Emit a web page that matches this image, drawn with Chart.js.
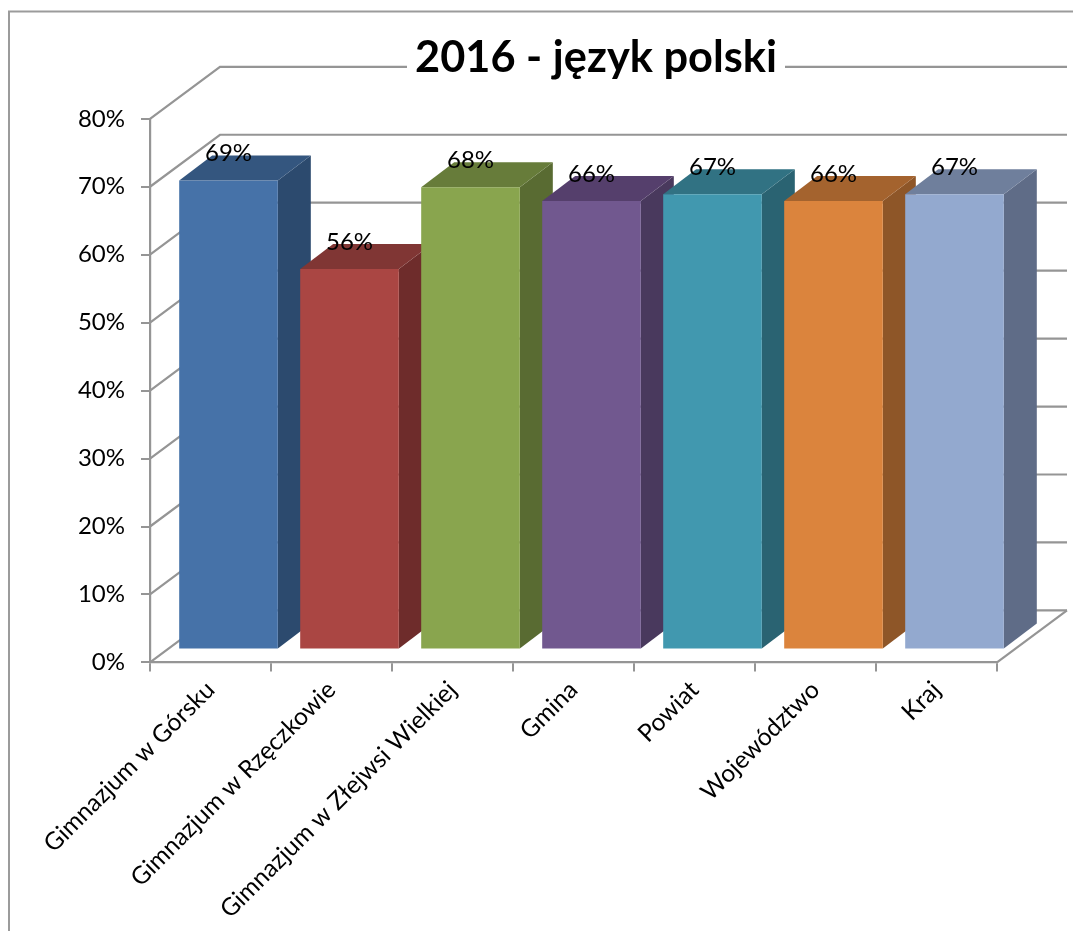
<!DOCTYPE html>
<html><head><meta charset="utf-8">
<style>html,body{margin:0;padding:0;background:#fff}#wrap{width:1073px;height:931px;position:relative}</style>
<script src="https://cdn.jsdelivr.net/npm/chart.js@4"></script>
</head><body><div id="wrap"><canvas id="c" width="1073" height="931"></canvas></div>
<script>
const titleText = '2016 - język polski';
const categories = ['Gimnazjum w Górsku','Gimnazjum w Rzęczkowie','Gimnazjum w Złejwsi Wielkiej','Gmina','Powiat','Województwo','Kraj'];
const values = [69,56,68,66,67,66,67];
const yTicks = [0,10,20,30,40,50,60,70,80];
const frontColors = ['#4672A8','#AA4643','#89A54E','#71588F','#4198AF','#DB843D','#93A9CF'];
const sideColors  = ['#2C4A6E','#6E2C2B','#596B32','#49395D','#2A6372','#8E5628','#5F6C87'];
const topColors   = ['#34567F','#803634','#677C3A','#553F6C','#317283','#A4632E','#6F7F9C'];

const GRID = '#959595', FONT = 'Lato, Carlito, Calibri, sans-serif';
const WALL_DX = 70, WALL_DY = -52;      // depth of the plot box
const BAR_DX = 18, BAR_DY = -13;        // where bars stand inside the box
const BAR_DEPTH_X = 33, BAR_DEPTH_Y = -25;

const box3d = {
  id: 'box3d',
  afterLayout(chart) {
    // the title sits right of centre in the original
    const t = chart.titleBlock;
    t.left = 415; t.right = 777;
  },
  beforeDraw(chart) {
    const {ctx, scales:{x,y}} = chart;
    ctx.save();
    // outer frame
    ctx.strokeStyle = '#9b9b9b'; ctx.lineWidth = 2;
    ctx.beginPath(); ctx.moveTo(9, 931); ctx.lineTo(9, 11.5); ctx.lineTo(1073, 11.5); ctx.stroke();
    // walls and floor
    ctx.strokeStyle = GRID; ctx.lineWidth = 2.2;
    yTicks.forEach(v => {
      const p = y.getPixelForValue(v);
      ctx.beginPath();
      ctx.moveTo(x.left, p);
      ctx.lineTo(x.left + WALL_DX, p + WALL_DY);
      ctx.lineTo(x.right + WALL_DX, p + WALL_DY);
      ctx.stroke();
    });
    const b = y.getPixelForValue(0);
    ctx.beginPath();
    ctx.moveTo(x.right, b); ctx.lineTo(x.right + WALL_DX, b + WALL_DY); ctx.stroke();
    // title backing
    ctx.fillStyle = '#fff';
    ctx.fillRect(407, 40, 378, 46);
    ctx.restore();
  },
  beforeDatasetDraw(chart, args) {
    const {ctx} = chart;
    const bars = args.meta.data;
    ctx.save();
    ctx.translate(BAR_DX, BAR_DY);
    bars.forEach((el, i) => {
      const l = el.x - el.width/2, r = el.x + el.width/2;
      ctx.fillStyle = sideColors[i];
      ctx.beginPath();
      ctx.moveTo(r, el.y); ctx.lineTo(r + BAR_DEPTH_X, el.y + BAR_DEPTH_Y);
      ctx.lineTo(r + BAR_DEPTH_X, el.base + BAR_DEPTH_Y); ctx.lineTo(r, el.base);
      ctx.closePath(); ctx.fill();
      ctx.fillStyle = topColors[i];
      ctx.beginPath();
      ctx.moveTo(l, el.y); ctx.lineTo(l + BAR_DEPTH_X, el.y + BAR_DEPTH_Y);
      ctx.lineTo(r + BAR_DEPTH_X, el.y + BAR_DEPTH_Y); ctx.lineTo(r, el.y);
      ctx.closePath(); ctx.fill();
    });
  },
  afterDatasetDraw(chart, args) {
    chart.ctx.restore();
  },
  afterDatasetsDraw(chart) {
    const {ctx} = chart;
    const bars = chart.getDatasetMeta(0).data;
    ctx.save();
    ctx.font = '24px ' + FONT;
    ctx.fillStyle = '#000';
    ctx.textAlign = 'center';
    ctx.textBaseline = 'middle';
    bars.forEach((el, i) => {
      ctx.fillText(values[i] + '%', el.x + BAR_DX, el.y + BAR_DY - 27);
    });
    ctx.restore();
  }
};

new Chart(document.getElementById('c'), {
  type: 'bar',
  data: { labels: categories, datasets: [{
    data: values, backgroundColor: frontColors, borderWidth: 0,
    barPercentage: 0.815, categoryPercentage: 1
  }]},
  options: {
    responsive: false, animation: false, devicePixelRatio: 1,
    layout: { padding: { left: 0, right: 76, top: 0, bottom: 0 } },
    plugins: {
      legend: { display: false }, tooltip: { enabled: false },
      title: { display: true, text: titleText, color: '#000', align: 'center',
        font: { family: FONT, size: 43.5, weight: 'bold', lineHeight: 1.2 },
        padding: { top: 32, bottom: 34.6 } }
    },
    scales: {
      x: {
        type: 'category', offset: true,
        grid: { offset: true, drawOnChartArea: false, drawTicks: true, tickLength: 9, color: GRID, lineWidth: 2 },
        border: { color: GRID, width: 2.2 },
        ticks: { color: '#000', font: { family: FONT, size: 24.5 }, minRotation: 45, maxRotation: 45, padding: 4, autoSkip: false },
        afterFit(s) { s.height = 268.6; }
      },
      y: {
        min: 0, max: 80,
        afterBuildTicks(s) { s.ticks = yTicks.map(v => ({ value: v })); },
        grid: { drawOnChartArea: false, drawTicks: true, tickLength: 9, color: GRID, lineWidth: 2 },
        border: { color: GRID, width: 2.2 },
        ticks: { color: '#000', font: { family: FONT, size: 24 }, padding: 16, callback: v => v + '%' },
        afterFit(s) { s.width = 150; }
      }
    }
  },
  plugins: [box3d]
});
</script></body></html>
